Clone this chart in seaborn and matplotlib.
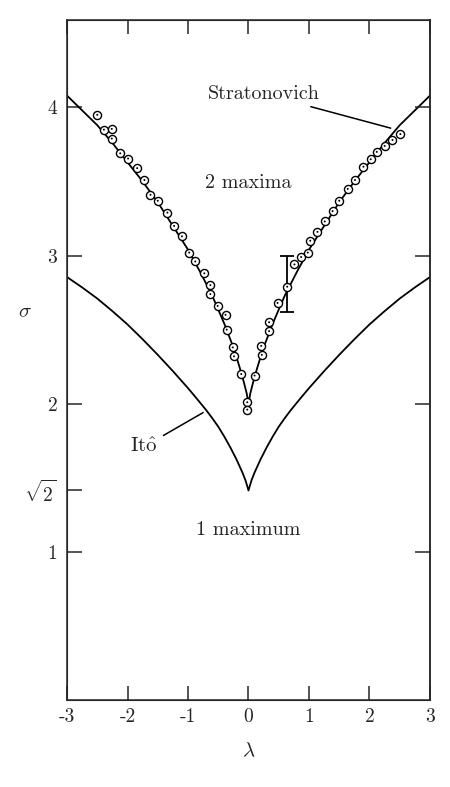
import numpy as np
import pandas as pd
import matplotlib
matplotlib.use("Agg")
import matplotlib.pyplot as plt
import seaborn as sns

# Ito curve (symmetric in lambda)
ito_lam = [-3.0, -2.75, -2.5, -2.25, -2.0, -1.75, -1.5, -1.25, -1.0, -0.85, -0.7, -0.6,
           -0.5, -0.4, -0.3, -0.2, -0.1, -0.05, -0.02, 0.0,
           0.02, 0.05, 0.1, 0.2, 0.3, 0.4, 0.5, 0.6, 0.7, 0.85, 1.0, 1.25, 1.5, 1.75,
           2.0, 2.25, 2.5, 2.75, 3.0]
ito_sig = [2.855, 2.785, 2.71, 2.625, 2.535, 2.435, 2.33, 2.22, 2.105, 2.032, 1.957, 1.903,
           1.845, 1.778, 1.705, 1.625, 1.535, 1.483, 1.443, 1.414,
           1.443, 1.483, 1.535, 1.625, 1.705, 1.778, 1.845, 1.903, 1.957, 2.032, 2.105,
           2.22, 2.33, 2.435, 2.535, 2.625, 2.71, 2.785, 2.855]

# Stratonovich curve
str_lam = [-3.0, -2.75, -2.5, -2.25, -2.0, -1.75, -1.5, -1.25, -1.0, -0.8, -0.6, -0.4,
           -0.25, -0.15, -0.08, -0.03, 0.0,
           0.03, 0.08, 0.15, 0.25, 0.4, 0.6, 0.8, 1.0, 1.25, 1.5, 1.75, 2.0, 2.25,
           2.5, 2.75, 3.0]
str_sig = [4.08, 3.98, 3.88, 3.76, 3.63, 3.50, 3.36, 3.20, 3.04, 2.89, 2.73, 2.54,
           2.38, 2.25, 2.15, 2.07, 2.0,
           2.07, 2.15, 2.25, 2.38, 2.54, 2.73, 2.89, 3.04, 3.20, 3.36, 3.50, 3.63, 3.76,
           3.88, 3.98, 4.08]

# simulation points
pts_lam = [-2.50, -2.39, -2.26, -2.26, -2.12, -1.99, -1.84, -1.72, -1.62, -1.50, -1.34,
           -1.23, -1.10, -0.98, -0.88, -0.73, -0.63, -0.63, -0.51, -0.38, -0.36, -0.26,
           -0.24, -0.12, -0.02, -0.02,
           0.10, 0.21, 0.22, 0.34, 0.34, 0.48, 0.64, 0.76, 0.87, 0.98, 1.02, 1.14, 1.26,
           1.39, 1.50, 1.64, 1.76, 1.90, 2.02, 2.12, 2.25, 2.38, 2.51]
pts_sig = [3.95, 3.85, 3.855, 3.79, 3.69, 3.655, 3.59, 3.51, 3.41, 3.37, 3.29,
           3.20, 3.13, 3.02, 2.96, 2.88, 2.80, 2.74, 2.66, 2.60, 2.50, 2.38,
           2.32, 2.20, 2.01, 1.96,
           2.19, 2.39, 2.33, 2.55, 2.49, 2.68, 2.79, 2.94, 2.99, 3.02, 3.10, 3.16, 3.23,
           3.30, 3.37, 3.45, 3.51, 3.60, 3.65, 3.70, 3.74, 3.78, 3.82]

# error bar
err_lam = [0.64]
err_sig = [2.81]
err_half = [0.19]

x_ticks = [-3, -2, -1, 0, 1, 2, 3]
x_labels = ["-3", "-2", "-1", "0", "1", "2", "3"]
y_ticks = [1, np.sqrt(2), 2, 3, 4]
y_labels = ["1", r"$\sqrt{2}$", "2", "3", "4"]

sns.set_style("ticks")
plt.rcParams["font.family"] = ["cmr10", "DejaVu Serif"]
plt.rcParams["mathtext.fontset"] = "cm"
plt.rcParams["axes.unicode_minus"] = False
plt.rcParams["axes.formatter.use_mathtext"] = True

fig = plt.figure(figsize=(4.5, 7.87), dpi=100)
ax = fig.add_axes([67 / 450, 1 - 700 / 787, 363 / 450, 680 / 787])

ito_df = pd.DataFrame({"lam": ito_lam, "sig": ito_sig})
str_df = pd.DataFrame({"lam": str_lam, "sig": str_sig})
pts_df = pd.DataFrame({"lam": pts_lam, "sig": pts_sig})

sns.lineplot(data=ito_df, x="lam", y="sig", ax=ax, color="black", lw=1.3,
             estimator=None, sort=True)
sns.lineplot(data=str_df, x="lam", y="sig", ax=ax, color="black", lw=1.3,
             estimator=None, sort=True)

ax.errorbar(err_lam, err_sig, yerr=err_half, fmt="none", ecolor="black",
            elinewidth=1.3, capsize=5, capthick=1.3, zorder=3)

sns.scatterplot(data=pts_df, x="lam", y="sig", ax=ax, marker="o", s=34,
                facecolor="white", edgecolor="black", linewidth=1.0, zorder=4)
sns.scatterplot(data=pts_df, x="lam", y="sig", ax=ax, marker="o", s=2,
                color="black", edgecolor="none", zorder=5)

ax.set_xlim(-3, 3)
ax.set_ylim(0, 4.59)

ax.set_xticks(x_ticks, x_labels)
ax.set_yticks(y_ticks, y_labels)
for lab in ax.get_xticklabels() + ax.get_yticklabels():
    lab.set_fontsize(14)

ax.tick_params(axis="x", direction="in", length=10, width=1.1, top=True, pad=6)
ax.tick_params(axis="y", direction="in", length=11, width=1.1, pad=7)
for s in ax.spines.values():
    s.set_visible(True)
    s.set_linewidth(1.1)

# right axis ticks only at integer values
ax2 = ax.twinx()
ax2.set_ylim(ax.get_ylim())
ax2.set_yticks([1, 2, 3, 4])
ax2.tick_params(axis="y", direction="in", length=11, width=1.1, labelright=False)
ax2.spines["right"].set_linewidth(1.1)
ax.tick_params(axis="y", right=False)

ax.set_xlabel(r"$\lambda$", fontsize=15, labelpad=11)
ax.set_ylabel(r"$\sigma$", fontsize=15, rotation=0, labelpad=14, va="center")
ax.yaxis.set_label_coords(-0.115, (701 - 313) / 680)

ax.text(0.0, 3.49, "2 maxima", fontsize=14.5, ha="center", va="center")
ax.text(0.0, 1.15, "1 maximum", fontsize=14.5, ha="center", va="center")
ax.annotate("Stratonovich", xy=(2.35, 3.86), xytext=(1.18, 4.09),
            fontsize=14.5, ha="right", va="center",
            arrowprops=dict(arrowstyle="-", color="black", lw=1.1,
                            shrinkA=1, shrinkB=0))
ax.annotate(r"$\mathrm{It\hat{o}}$", xy=(-0.75, 1.94), xytext=(-1.5, 1.71),
            fontsize=15, ha="right", va="center",
            arrowprops=dict(arrowstyle="-", color="black", lw=1.1,
                            shrinkA=2, shrinkB=0))

fig.savefig("out.png", dpi=100)
plt.close(fig)
